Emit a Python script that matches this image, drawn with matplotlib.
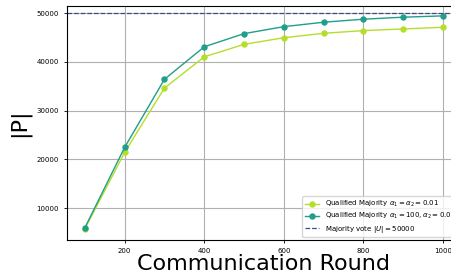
import matplotlib
matplotlib.use("Agg")
import matplotlib.pyplot as plt

rounds = [100, 200, 300, 400, 500, 600, 700, 800, 900, 1000]
qm_001 = [5750, 21440, 34630, 41040, 43600, 44960, 45870, 46420, 46760, 47100]
qm_100 = [5950, 22460, 36430, 43100, 45800, 47230, 48140, 48760, 49170, 49440]
majority = 50000

fig = plt.figure(figsize=(4.52, 2.76), dpi=100)
ax = fig.add_axes([0.148, 0.130, 0.872, 0.848])

ax.plot(rounds, qm_001, marker='o', markersize=3.6, linewidth=1, color='#b5de2b',
        label=r'Qualified Majority $\alpha_1 = \alpha_2 = 0.01$')
ax.plot(rounds, qm_100, marker='o', markersize=3.6, linewidth=1, color='#1f9e89',
        label=r'Qualified Majority $\alpha_1 = 100, \alpha_2 = 0.01$')
ax.axhline(majority, linestyle='--', linewidth=0.9, color='#3b4a8a',
           label=r'Majority vote $|U| = 50000$')

ax.set_xlim(55, 1045)
ax.set_ylim(3450, 51450)
ax.set_xticks([200, 400, 600, 800, 1000])
ax.set_yticks([10000, 20000, 30000, 40000, 50000])
ax.tick_params(labelsize=5, length=2.5, width=0.6)
ax.grid(True, color='#b0b0b0', linewidth=0.8)
ax.set_axisbelow(True)
ax.set_xlabel('Communication Round', fontsize=16, labelpad=0)
ax.set_ylabel('|P|', fontsize=16)
ax.legend(loc='lower right', fontsize=5, framealpha=0.8, labelspacing=0.3,
          borderaxespad=0.4)

fig.savefig('out.png', dpi=100)
